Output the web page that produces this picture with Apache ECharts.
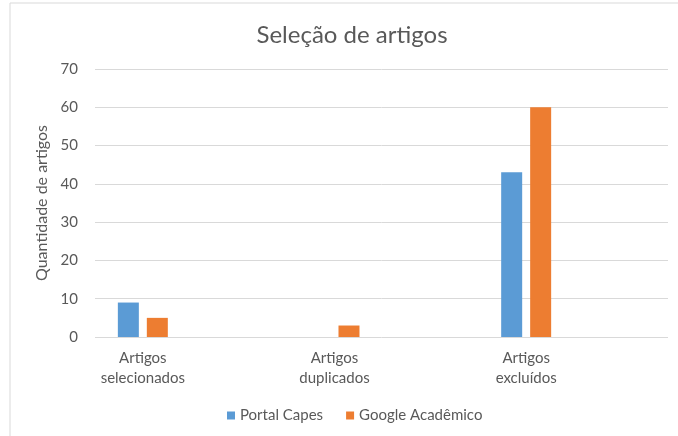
<!DOCTYPE html>
<html>
<head>
<meta charset="utf-8">
<script src="https://cdn.jsdelivr.net/npm/echarts@6/dist/echarts.min.js"></script>
<style>
  html, body { margin: 0; padding: 0; background: #fff; }
  #chart { width: 678px; height: 436px; }
</style>
</head>
<body>
<div id="chart"></div>
<script>
var categories = ['Artigos\nselecionados', 'Artigos\nduplicados', 'Artigos\nexcluídos'];
var portalCapes = [9, 0, 43];
var googleAcademico = [5, 3, 60];
var seriesNames = ['Portal Capes', 'Google Acadêmico'];

var font = 'Lato, "Open Sans", sans-serif';
var textColor = '#595959';

var chart = echarts.init(document.getElementById('chart'));

chart.setOption({
  backgroundColor: '#fff',
  animation: false,
  textStyle: { fontFamily: font },
  title: {
    text: 'Seleção de artigos',
    left: 347,
    top: 18,
    textAlign: 'center',
    textStyle: { fontFamily: font, fontSize: 24, fontWeight: 'normal', color: textColor }
  },
  legend: {
    data: seriesNames,
    left: 222,
    top: 403,
    itemWidth: 8,
    itemHeight: 8,
    itemGap: 23,
    icon: 'rect',
    textStyle: { fontFamily: font, fontSize: 15, color: textColor }
  },
  graphic: [{
    type: 'polyline',
    shape: { points: [[10, 436], [10, 3], [678, 3]] },
    style: { stroke: '#d9d9d9', lineWidth: 1, fill: null }
  }],
  grid: [
    { left: 95, right: 10, top: 69, bottom: 99 },
    { left: 47, right: 56, top: 69, bottom: 99 }
  ],
  xAxis: [
    { gridIndex: 0, type: 'category', data: categories, show: false },
    {
      gridIndex: 1, type: 'category', data: categories,
      axisLine: { show: false },
      axisTick: { show: false },
      axisLabel: { color: textColor, fontSize: 15, lineHeight: 20, margin: 11, fontFamily: font }
    }
  ],
  yAxis: [
    {
      gridIndex: 0, type: 'value', min: 0, max: 70, interval: 10,
      name: 'Quantidade de artigos',
      nameLocation: 'middle',
      nameGap: 37,
      nameTextStyle: { color: textColor, fontSize: 16, fontFamily: font },
      axisLine: { show: false },
      axisTick: { show: false },
      axisLabel: { color: textColor, fontSize: 15, margin: 17, fontFamily: font },
      splitLine: { lineStyle: { color: '#d9d9d9', width: 1 } }
    },
    { gridIndex: 1, type: 'value', min: 0, max: 70, interval: 10, show: false, splitLine: { show: false } }
  ],
  series: [
    {
      name: seriesNames[0], type: 'bar', xAxisIndex: 1, yAxisIndex: 1,
      data: portalCapes, barWidth: 21, barGap: '38%',
      itemStyle: { color: '#5b9bd5' }
    },
    {
      name: seriesNames[1], type: 'bar', xAxisIndex: 1, yAxisIndex: 1,
      data: googleAcademico, barWidth: 21, barGap: '38%',
      itemStyle: { color: '#ed7d31' }
    }
  ]
});
</script>
</body>
</html>
